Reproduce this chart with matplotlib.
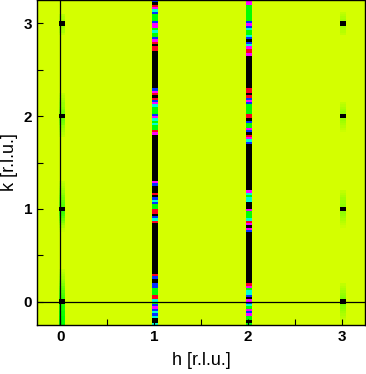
import numpy as np
import matplotlib
matplotlib.use("Agg")
import matplotlib.pyplot as plt
from matplotlib.colors import LinearSegmentedColormap
from matplotlib.ticker import MultipleLocator

# intensity levels: 0 background ... 6 saturated (black)
# k profiles, 140 bins of 0.025 r.l.u., listed from k=3.25 down to k=-0.25
k_lo, k_hi, dk = -0.25, 3.25, 0.025

h0_profile = [0, 0, 0, 0, 0, 0, 0.15, 0.2, 0.25, 6,
              6, 0.3, 0.25, 0.2, 0.1, 0, 0, 0, 0, 0,
              0, 0, 0, 0, 0, 0, 0, 0, 0, 0,
              0, 0, 0, 0, 0, 0, 0, 0, 0, 0,
              0.1, 0.15, 0.2, 0.25, 0.3, 0.3, 0.35, 0.4, 0.45, 6,
              6, 0.5, 0.45, 0.4, 0.3, 0.25, 0.2, 0.15, 0.1, 0,
              0, 0, 0, 0, 0, 0, 0, 0, 0, 0,
              0, 0, 0, 0, 0, 0, 0, 0, 0.1, 0.15,
              0.2, 0.25, 0.3, 0.35, 0.4, 0.45, 0.5, 0.55, 0.6, 6,
              6, 0.75, 0.7, 0.6, 0.5, 0.4, 0.3, 0.2, 0.1, 0.05,
              0, 0, 0, 0, 0, 0, 0, 0, 0, 0,
              0, 0, 0, 0, 0, 0, 0.1, 0.15, 0.2, 0.25,
              0.3, 0.35, 0.4, 0.5, 0.55, 0.6, 0.65, 0.7, 0.75, 6,
              6, 0.85, 0.9, 0.9, 0.95, 0.95, 1.0, 1.0, 1.0, 1.0]

h1_profile = [3, 6, 5, 4, 2, 3, 1, 1, 1, 3,
              4, 4, 1, 2, 1, 1, 3, 4, 5, 6,
              5, 5, 6, 6, 6, 6, 6, 6, 6, 6,
              6, 6, 6, 6, 6, 6, 6, 6, 3, 4,
              5, 6, 5, 3, 4, 2, 1, 1, 1, 3,
              4, 2, 1, 2, 1, 1, 5, 4, 6, 6,
              6, 6, 6, 6, 6, 6, 6, 6, 6, 6,
              6, 6, 6, 6, 6, 6, 6, 6, 4, 3,
              6, 6, 6, 5, 6, 3, 2, 3, 1, 1,
              5, 5, 6, 3, 2, 5, 6, 6, 6, 6,
              6, 6, 6, 6, 6, 6, 6, 6, 6, 6,
              6, 6, 6, 6, 6, 6, 6, 6, 5, 3,
              6, 6, 3, 3, 1, 1, 1, 5, 5, 2,
              1, 3, 4, 3, 2, 3, 2, 6, 6, 2]

h2_profile = [4, 4, 1, 1, 1, 1, 1, 1, 1, 3,
              4, 3, 2, 1, 1, 2, 3, 6, 3, 2,
              4, 5, 5, 4, 6, 6, 6, 6, 6, 6,
              6, 6, 6, 6, 6, 6, 6, 6, 5, 5,
              6, 5, 3, 4, 3, 1, 1, 1, 1, 5,
              5, 6, 3, 1, 1, 4, 3, 6, 5, 4,
              2, 3, 6, 6, 6, 6, 6, 6, 6, 6,
              6, 6, 6, 6, 6, 6, 6, 6, 6, 6,
              6, 6, 4, 2, 1, 2, 2, 6, 6, 6,
              4, 1, 1, 1, 2, 5, 4, 6, 4, 3,
              6, 6, 6, 6, 6, 6, 6, 6, 6, 6,
              6, 6, 6, 6, 6, 6, 6, 6, 6, 6,
              6, 6, 5, 4, 1, 2, 2, 3, 6, 4,
              3, 2, 1, 4, 3, 4, 1, 1, 6, 1]

h3_profile = [0, 0, 0, 0, 0, 0.1, 0.15, 0.2, 0.25, 6,
              6, 0.25, 0.2, 0.15, 0.1, 0, 0, 0, 0, 0,
              0, 0, 0, 0, 0, 0, 0, 0, 0, 0,
              0, 0, 0, 0, 0, 0, 0, 0, 0, 0,
              0, 0, 0, 0, 0.1, 0.15, 0.2, 0.25, 0.3, 6,
              6, 0.3, 0.25, 0.2, 0.15, 0.1, 0.05, 0, 0, 0,
              0, 0, 0, 0, 0, 0, 0, 0, 0, 0,
              0, 0, 0, 0, 0, 0, 0, 0, 0, 0,
              0, 0, 0.1, 0.15, 0.2, 0.25, 0.3, 0.3, 0.35, 6,
              6, 0.35, 0.3, 0.25, 0.2, 0.15, 0.1, 0.05, 0, 0,
              0, 0, 0, 0, 0, 0, 0, 0, 0, 0,
              0, 0, 0, 0, 0, 0, 0, 0, 0, 0,
              0, 0, 0.1, 0.15, 0.2, 0.25, 0.3, 0.35, 0.4, 6,
              6, 0.4, 0.35, 0.3, 0.25, 0.2, 0.15, 0.1, 0.05, 0]

h_positions = [0, 1, 2, 3]
profiles = [h0_profile, h1_profile, h2_profile, h3_profile]

level_colors = ["#d4ff00", "#00ff00", "#00ffd0", "#0030ff", "#ff00ff", "#ff0020", "#000000"]
cmap = LinearSegmentedColormap.from_list("lvl", list(zip(np.linspace(0, 1, 7), level_colors)))

fig = plt.figure(figsize=(3.66, 3.74), dpi=100)
ax = fig.add_axes([37/366, 49/374, 328/366, 325/374])
ax.set_facecolor(level_colors[0])

k_edges = np.arange(k_lo, k_hi + dk/2, dk)
for h, prof in zip(h_positions, profiles):
    z = np.array(prof, dtype=float)[::-1].reshape(-1, 1)
    h_edges = [h - 0.02, h + 0.045]
    ax.pcolormesh(h_edges, k_edges, z, cmap=cmap, vmin=0, vmax=6, shading="flat")

ax.axhline(0, color="black", lw=0.9)
ax.axvline(0, color="black", lw=0.9)

ax.set_xlim(-0.25, 3.25)
ax.set_ylim(-0.25, 3.25)
ax.xaxis.set_major_locator(MultipleLocator(1))
ax.yaxis.set_major_locator(MultipleLocator(1))
ax.xaxis.set_minor_locator(MultipleLocator(0.5))
ax.yaxis.set_minor_locator(MultipleLocator(0.5))
ax.tick_params(which="both", direction="in", length=4, width=0.8, top=False, right=False)
for lab in ax.get_xticklabels() + ax.get_yticklabels():
    lab.set_fontfamily("Liberation Sans")
    lab.set_fontweight("bold")
    lab.set_fontsize(11)
ax.set_xlabel("h [r.l.u.]", fontfamily="Liberation Sans", fontsize=13, labelpad=6)
ax.set_ylabel("k [r.l.u.]", fontfamily="Liberation Sans", fontsize=13, labelpad=4)
for s in ax.spines.values():
    s.set_linewidth(1.0)

fig.savefig("out.png", dpi=100)
